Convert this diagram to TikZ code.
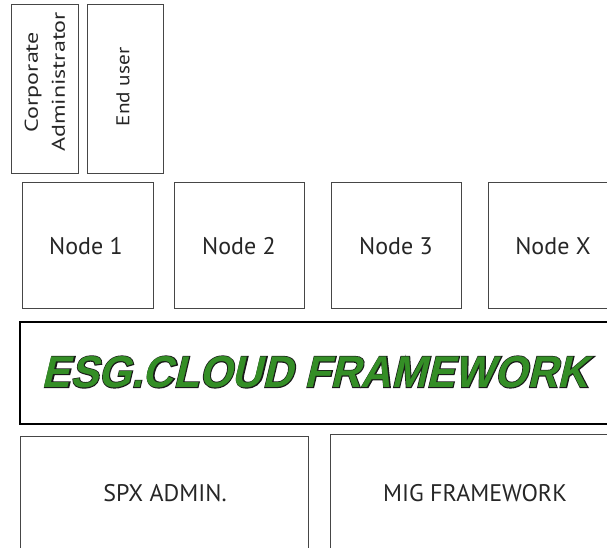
\documentclass[tikz,border=0pt]{standalone}
\usepackage{fontspec}
\usepackage{graphicx}
\setmainfont{PT Sans}
\newfontfamily\esgfont[FakeSlant=0.25]{Liberation Sans Bold}
\newfontfamily\esgfontshadow[FakeSlant=0.25,FakeBold=4]{Liberation Sans Bold}
\definecolor{boxgray}{RGB}{70,70,70}
\definecolor{esggreen}{RGB}{52,142,38}
\begin{document}
\begin{tikzpicture}[x=1pt,y=-1pt,
  box/.style={draw=boxgray, line width=1pt, inner sep=0pt},
  lbl/.style={inner sep=0pt, font=\fontsize{24}{26}\selectfont, text=black!85},
  vlbl/.style={inner sep=0pt, rotate=90, align=center, font=\fontsize{18.5}{27}\selectfont, text=black!85}]
\useasboundingbox (0,0) rectangle (607,548);
\clip (0,0) rectangle (607,548);
% actor boxes
\node[box, minimum width=67pt, minimum height=169pt] (corp) at (44.5,89.5) {};
\node[vlbl] (corpt) at (45,82) {\scalebox{1.3}[1]{Corporate}\\\scalebox{1.3}[1]{Administrator}};
\node[box, minimum width=76pt, minimum height=169pt] (enduser) at (125,89.5) {};
\node[vlbl] (endt) at (123,87) {\scalebox{1.15}[1]{End user}};
% nodes
\node[box, minimum width=131pt, minimum height=126pt] (n1) at (87.5,245) {};
\node[lbl] (n1t) at (86,246) {Node 1};
\node[box, minimum width=130pt, minimum height=126pt] (n2) at (239,245) {};
\node[lbl] (n2t) at (239,246) {Node 2};
\node[box, minimum width=130pt, minimum height=126pt] (n3) at (396,245) {};
\node[lbl] (n3t) at (396,246) {Node 3};
\node[box, minimum width=140pt, minimum height=126pt] (nx) at (558,245) {};
\node[lbl] (nxt) at (553,246) {Node X};
% framework
\node[draw=black, line width=2pt, minimum width=610pt, minimum height=102pt, inner sep=0pt] (esg) at (325,373) {};
\node[inner sep=0pt] (esgs) at (315,372) {\resizebox{546pt}{31pt}{\esgfontshadow\textcolor{black!90}{ESG.CLOUD FRAMEWORK}}};
\node[inner sep=0pt] (esgt) at (esgs.center) {\resizebox{546pt}{31pt}{\esgfont\textcolor{esggreen}{ESG.CLOUD FRAMEWORK}}};
% bottom
\node[box, minimum width=288pt, minimum height=140pt] (spx) at (164,506) {};
\node[lbl] (spxt) at (165,493) {SPX ADMIN.};
\node[box, minimum width=300pt, minimum height=140pt] (mig) at (480,504) {};
\node[lbl] (migt) at (475,493) {MIG FRAMEWORK};
\end{tikzpicture}
\end{document}
